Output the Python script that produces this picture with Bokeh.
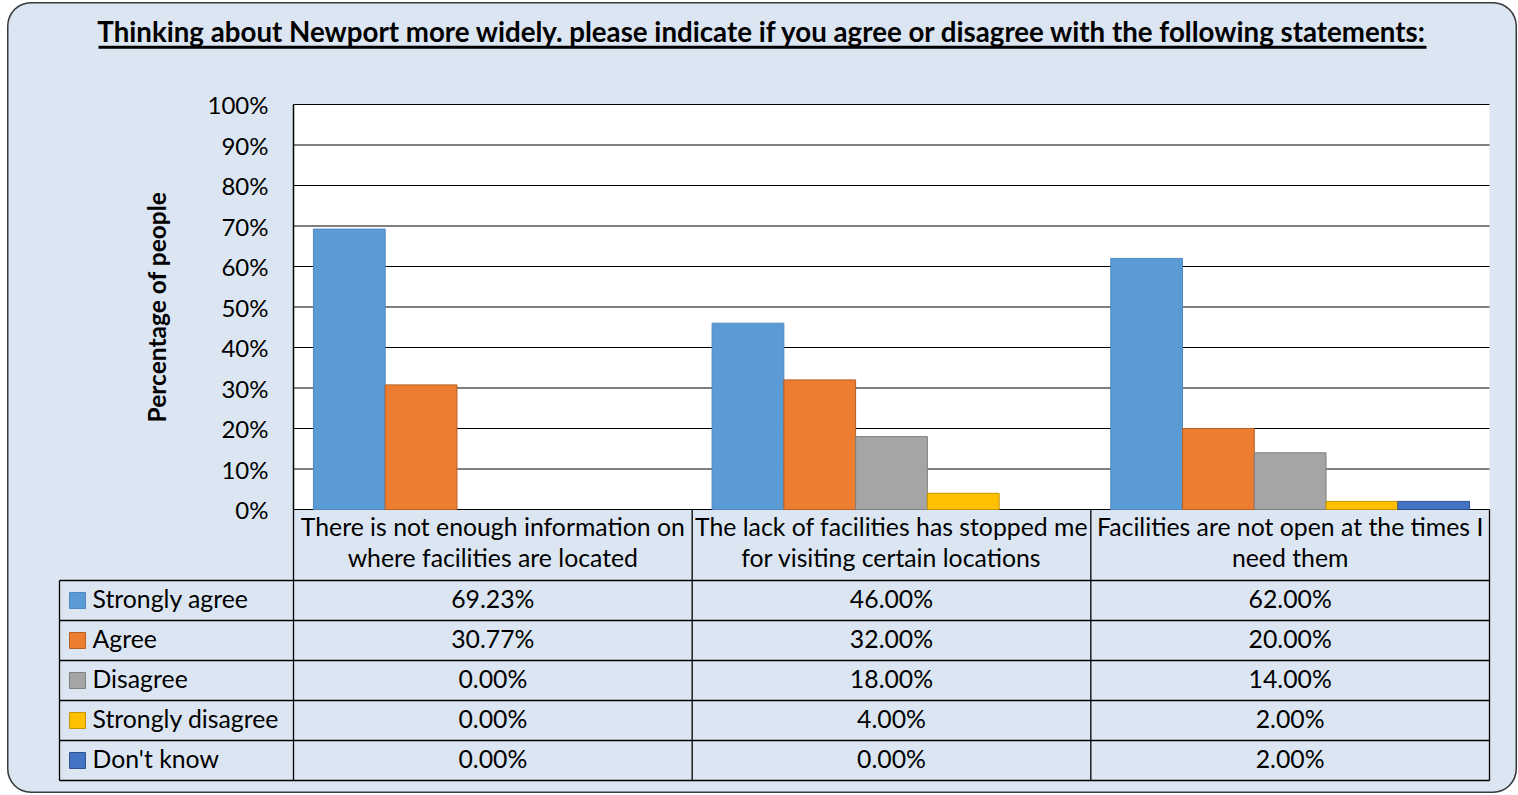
import math
from bokeh.plotting import figure
from bokeh.layouts import column
from bokeh.models import Range1d, FixedTicker, PrintfTickFormatter, LinearAxis
from bokeh.core.properties import value
from bokeh.embed import file_html
from bokeh.resources import INLINE

# ---------------- data ----------------
categories = [
    "There is not enough information on\nwhere facilities are located",
    "The lack of facilities has stopped me\nfor visiting certain locations",
    "Facilities are not open at the times I\nneed them",
]
series = ["Strongly agree", "Agree", "Disagree", "Strongly disagree", "Don't know"]
strongly_agree = [69.23, 46.00, 62.00]
agree = [30.77, 32.00, 20.00]
disagree = [0.00, 18.00, 14.00]
strongly_disagree = [0.00, 4.00, 2.00]
dont_know = [0.00, 0.00, 2.00]
values = [strongly_agree, agree, disagree, strongly_disagree, dont_know]
y_ticks = list(range(0, 101, 10))
title_text = ("Thinking about Newport more widely. please indicate if you agree "
              "or disagree with the following statements:")
y_title = "Percentage of people"

# ---------------- style / layout ----------------
FONT = "Lato"
BG = "#DCE6F2"
fills = ["#5B9BD5", "#ED7D31", "#A5A5A5", "#FFC000", "#4472C4"]
lines = ["#4F89BF", "#B85F22", "#808080", "#C49500", "#2F528F"]
FS = "24.8px"
OX, OY = 7, 2                # where the chart box starts on the page
W, H = 1510, 791
PLOT_L, PLOT_R = 293, 1489   # plot area, page px
PLOT_T, PLOT_B = 104, 509
ncat = len(categories)
PX = (PLOT_R - PLOT_L) / ncat          # px per category
PY = (PLOT_B - PLOT_T) / 100.0         # px per percent


def X(px):
    return (px - PLOT_L) / PX


def Y(py):
    return (PLOT_B - py) / PY


p = figure(width=W, height=H,
           x_range=Range1d(X(OX), X(OX + W)),
           y_range=Range1d(Y(OY + H), Y(OY)),
           x_axis_type=None, y_axis_type=None,
           output_backend="svg", toolbar_location=None, min_border=0)
p.background_fill_alpha = 0
p.border_fill_alpha = 0
p.outline_line_color = None
p.grid.visible = False

# plot area
p.quad(left=[0], right=[ncat], bottom=[0], top=[100], fill_color="white", line_color=None)
p.segment(x0=[0] * len(y_ticks), x1=[ncat] * len(y_ticks), y0=y_ticks, y1=y_ticks,
          line_color="black", line_width=1.2)

# bars
bw = 0.18
for j, (name, vals) in enumerate(zip(series, values)):
    xs, tops = [], []
    for i, v in enumerate(vals):
        if v > 0:
            xs.append(i + 0.5 + (j - 2) * bw)
            tops.append(v)
    if xs:
        p.vbar(x=xs, top=tops, bottom=0, width=bw, fill_color=fills[j],
               line_color=lines[j], line_width=1)

# y axis at x = 0
yax = LinearAxis(fixed_location=0, bounds=(0, 100), ticker=FixedTicker(ticks=y_ticks),
                 formatter=PrintfTickFormatter(format="%d%%"))
yax.major_tick_line_color = None
yax.minor_tick_line_color = None
yax.axis_line_color = "black"
yax.axis_line_width = 1.5
yax.major_label_standoff = 19
yax.major_label_text_font = FONT
yax.major_label_text_font_size = "24px"
yax.major_label_text_color = "black"
yax.axis_label = y_title
yax.axis_label_text_font = FONT
yax.axis_label_text_font_size = "24.5px"
yax.axis_label_text_font_style = "bold"
yax.axis_label_text_color = "black"
yax.axis_label_standoff = 34
p.add_layout(yax, "left")

# title
p.text(x=[X(762)], y=[Y(31)], text=[title_text], text_align="center", text_baseline="middle",
       text_font=value(FONT), text_font_size="27.7px", text_font_style="bold", text_color="black")
p.segment(x0=[X(98)], x1=[X(1426)], y0=[Y(46.8)], y1=[Y(46.8)], line_color="black", line_width=3)

# ---------------- data table ----------------
CAT_B = 580        # bottom of category label row
ROW_H = 40
TAB_L = 59
nrow = len(series)
row_edges = [CAT_B + k * ROW_H for k in range(nrow + 1)]

# category label row
p.text(x=[i + 0.5 for i in range(ncat)], y=[Y((PLOT_B + CAT_B) / 2)] * ncat, text=categories,
       text_align="center", text_baseline="middle", text_font=value(FONT), y_offset=-3,
       text_font_size=FS, text_color="black", text_line_height=1.05)

# table lines
p.segment(x0=[X(TAB_L)] * len(row_edges), x1=[ncat] * len(row_edges),
          y0=[Y(r) for r in row_edges], y1=[Y(r) for r in row_edges],
          line_color="black", line_width=1.3)
vx = list(range(ncat + 1))
p.segment(x0=vx, x1=vx, y0=[0] * len(vx), y1=[Y(row_edges[-1])] * len(vx),
          line_color="black", line_width=1.3)
p.segment(x0=[X(TAB_L)], x1=[X(TAB_L)], y0=[Y(CAT_B)], y1=[Y(row_edges[-1])],
          line_color="black", line_width=1.3)

rows_y = [Y(CAT_B + (k + 0.5) * ROW_H) for k in range(nrow)]
p.rect(x=[X(TAB_L + 18)] * nrow, y=rows_y, width=16, height=16,
       width_units="screen", height_units="screen", fill_color=fills, line_color=lines)
p.text(x=[X(TAB_L + 33)] * nrow, y=rows_y, text=series, text_align="left", y_offset=-2,
       text_baseline="middle", text_font=value(FONT), text_font_size=FS, text_color="black")
tx, ty, tt = [], [], []
for k, vals in enumerate(values):
    for c, v in enumerate(vals):
        tx.append(c + 0.5)
        ty.append(rows_y[k])
        tt.append(f"{v:.2f}%")
p.text(x=tx, y=ty, text=tt, text_align="center", text_baseline="middle", y_offset=-2,
       text_font=value(FONT), text_font_size=FS, text_color="black")

layout = column(p, spacing=0, margin=(OY, 0, 0, OX), styles={
    "background-color": BG,
    "border-radius": "24px",
    "box-shadow": "inset 0 0 0 1.5px #3a3a3a",
})

open("out.html", "w").write(file_html(layout, INLINE))
